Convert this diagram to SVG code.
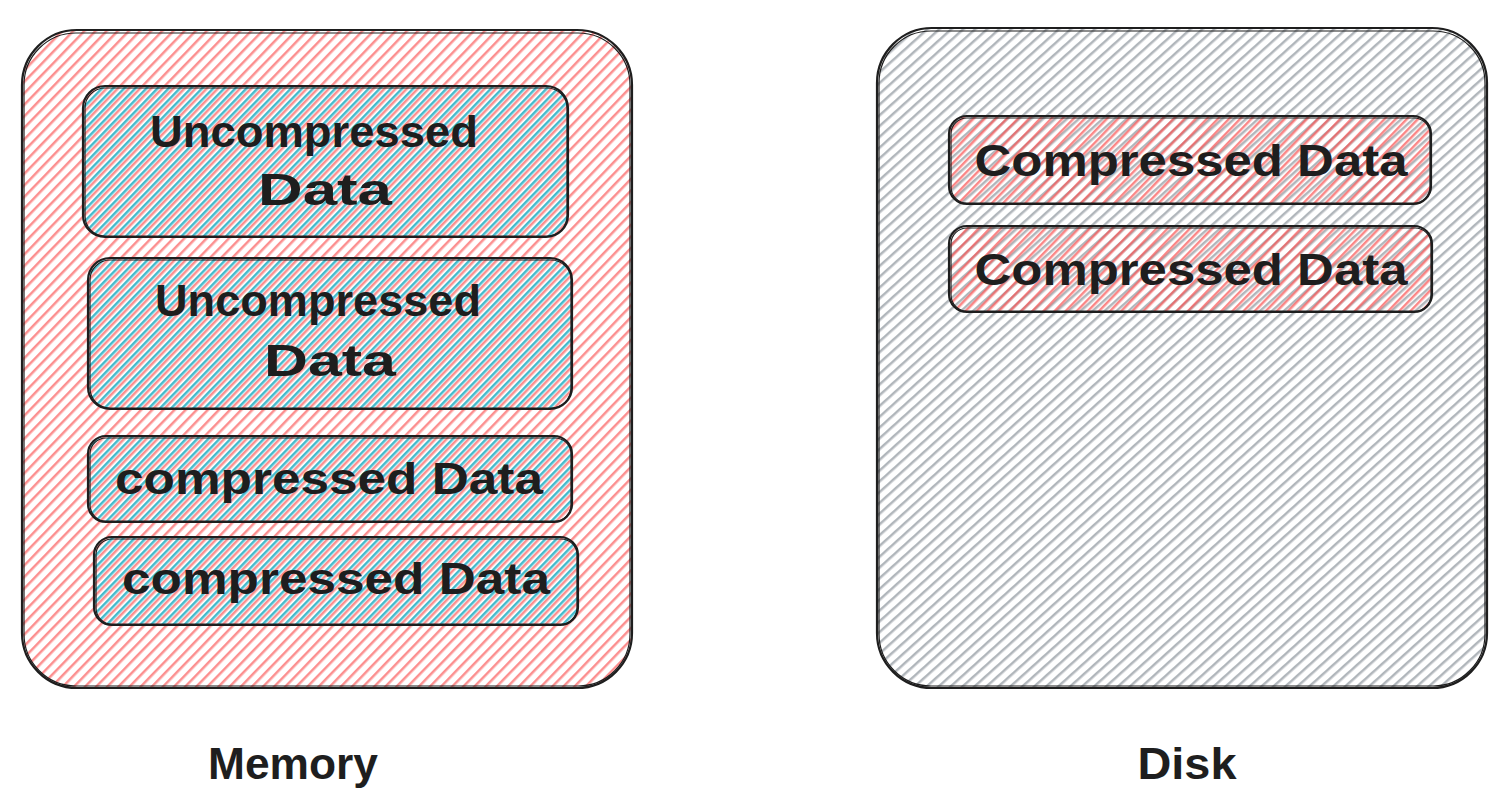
<svg xmlns="http://www.w3.org/2000/svg" width="1512" height="800" viewBox="0 0 1512 800">
<defs>
<pattern id="hRed" patternUnits="userSpaceOnUse" width="8" height="8" patternTransform="rotate(44)">
<line x1="2" y1="0" x2="2" y2="8" stroke="#fa5252" stroke-width="1.3"/>
<line x1="3.6" y1="0" x2="3.6" y2="8" stroke="#fa5252" stroke-width="0.7" opacity="0.5"/>
</pattern>
<pattern id="hCyan" patternUnits="userSpaceOnUse" width="8" height="8" patternTransform="rotate(44) translate(4.5 0)">
<line x1="2" y1="0" x2="2" y2="8" stroke="#15aabf" stroke-width="1.6"/>
<line x1="3.6" y1="0" x2="3.6" y2="8" stroke="#15aabf" stroke-width="0.8" opacity="0.6"/>
</pattern>
<pattern id="hGray" patternUnits="userSpaceOnUse" width="8" height="8" patternTransform="rotate(48)">
<line x1="2" y1="0" x2="2" y2="8" stroke="#868e96" stroke-width="1.3"/>
<line x1="3.6" y1="0" x2="3.6" y2="8" stroke="#868e96" stroke-width="0.7" opacity="0.5"/>
</pattern>
<pattern id="hRed2" patternUnits="userSpaceOnUse" width="8" height="8" patternTransform="rotate(44) translate(4.5 0)">
<line x1="2" y1="0" x2="2" y2="8" stroke="#fa5252" stroke-width="1.4"/>
<line x1="3.6" y1="0" x2="3.6" y2="8" stroke="#fa5252" stroke-width="0.7" opacity="0.5"/>
</pattern>
</defs>
<style>
.b{fill:none;stroke:#1e1e1e;stroke-width:2.2;}
.b2{fill:none;stroke:#1e1e1e;stroke-width:1.2;}
.t{font-family:"Liberation Sans","DejaVu Sans",sans-serif;font-size:44px;fill:#1e1e1e;text-anchor:middle;font-weight:bold;}
</style>
<rect width="1512" height="800" fill="#ffffff"/>

<g id="memory">
<rect x="22" y="30" width="610" height="658" rx="55" fill="url(#hRed)"/>
<rect x="22" y="30" width="610" height="658" rx="55" class="b"/>
<rect x="24" y="33" width="606" height="653" rx="52" class="b2"/>
</g>

<g id="uncompressed1">
<rect x="83" y="86" width="485" height="151" rx="22" fill="url(#hCyan)"/>
<rect x="83" y="86" width="485" height="151" rx="22" class="b"/>
<rect x="85" y="88" width="482" height="148" rx="20" class="b2"/>
<text class="t" x="314" y="147" textLength="328" lengthAdjust="spacingAndGlyphs">Uncompressed</text>
<text class="t" x="325" y="205" textLength="134" lengthAdjust="spacingAndGlyphs">Data</text>
</g>

<g id="uncompressed2">
<rect x="88" y="258" width="484" height="151" rx="22" fill="url(#hCyan)"/>
<rect x="88" y="258" width="484" height="151" rx="22" class="b"/>
<rect x="90" y="260" width="481" height="148" rx="20" class="b2"/>
<text class="t" x="318" y="316" textLength="326" lengthAdjust="spacingAndGlyphs">Uncompressed</text>
<text class="t" x="330" y="376" textLength="132" lengthAdjust="spacingAndGlyphs">Data</text>
</g>

<g id="compressed1">
<rect x="88" y="436" width="484" height="86" rx="18" fill="url(#hCyan)"/>
<rect x="88" y="436" width="484" height="86" rx="18" class="b"/>
<rect x="90" y="438" width="481" height="83" rx="16" class="b2"/>
<text class="t" x="329" y="494" textLength="428" lengthAdjust="spacingAndGlyphs">compressed Data</text>
</g>

<g id="compressed2">
<rect x="94" y="537" width="484" height="88" rx="18" fill="url(#hCyan)"/>
<rect x="94" y="537" width="484" height="88" rx="18" class="b"/>
<rect x="96" y="539" width="481" height="85" rx="16" class="b2"/>
<text class="t" x="336" y="594" textLength="428" lengthAdjust="spacingAndGlyphs">compressed Data</text>
</g>

<g id="disk">
<rect x="877" y="28" width="610" height="660" rx="55" fill="url(#hGray)"/>
<rect x="877" y="28" width="610" height="660" rx="55" class="b"/>
<rect x="879" y="31" width="606" height="655" rx="52" class="b2"/>
</g>

<g id="diskCompressed1">
<rect x="949" y="116" width="482" height="88" rx="18" fill="url(#hRed2)"/>
<rect x="949" y="116" width="482" height="88" rx="18" class="b"/>
<rect x="951" y="118" width="479" height="85" rx="16" class="b2"/>
<text class="t" x="1191" y="176" textLength="433" lengthAdjust="spacingAndGlyphs">Compressed Data</text>
</g>

<g id="diskCompressed2">
<rect x="949" y="226" width="483" height="86" rx="18" fill="url(#hRed2)"/>
<rect x="949" y="226" width="483" height="86" rx="18" class="b"/>
<rect x="951" y="228" width="480" height="83" rx="16" class="b2"/>
<text class="t" x="1191" y="285" textLength="433" lengthAdjust="spacingAndGlyphs">Compressed Data</text>
</g>

<g id="labels">
<text class="t" x="293" y="779" textLength="170" lengthAdjust="spacingAndGlyphs">Memory</text>
<text class="t" x="1187" y="779" textLength="99" lengthAdjust="spacingAndGlyphs">Disk</text>
</g>

<g id="connectors"></g>
</svg>
